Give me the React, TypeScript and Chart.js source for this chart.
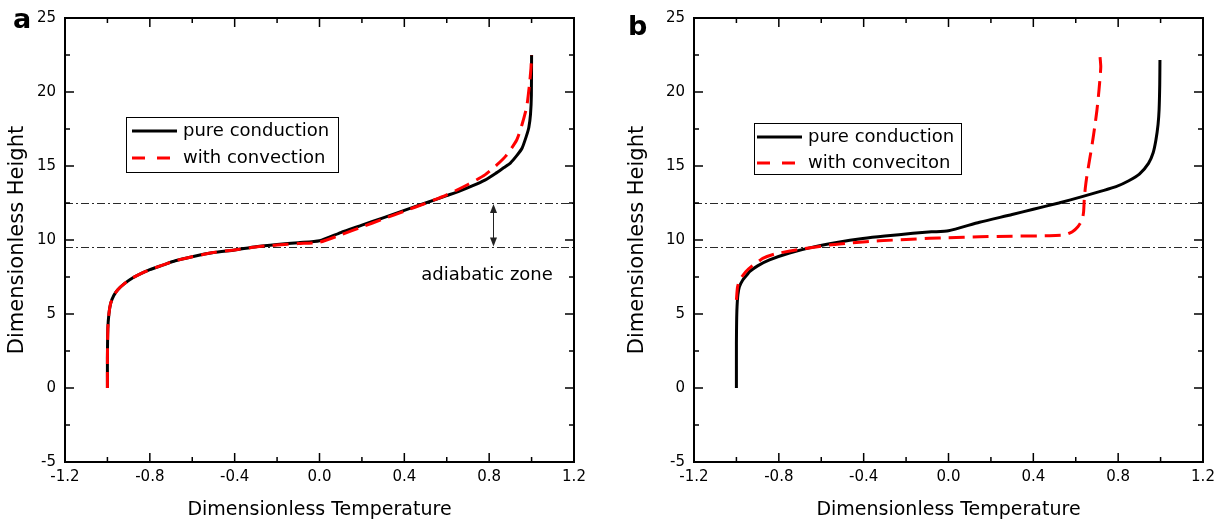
import React, { useEffect, useRef } from "react";
import { Chart, registerables } from "chart.js";

Chart.register(...registerables);

const FONT = "'DejaVu Sans', 'Liberation Sans', sans-serif";

// ---- tick labels / texts ----
const xTickValues = [-1.2, -0.8, -0.4, 0, 0.4, 0.8, 1.2];
const yTickValues = [-5, 0, 5, 10, 15, 20, 25];
const zoneBounds = [9.5, 12.5];
const xTitle = "Dimensionless Temperature";
const yTitle = "Dimensionless Height";
const labelsA = ["pure conduction", "with convection"];
const labelsB = ["pure conduction", "with conveciton"];
const zoneLabel = "adiabatic zone";
const zoneArrowT = 0.82;
const zoneLabelT = 0.79;
const zoneLabelH = 7.6;

// ---- panel a: pure conduction ----
const aCondT = [-1.0, -1.0, -0.998, -0.993, -0.985, -0.97, -0.95, -0.92, -0.88, -0.84, -0.8, -0.74, -0.68, -0.6, -0.5, -0.4, -0.3, -0.2, -0.1, 0.0, 0.1, 0.2, 0.3, 0.4, 0.5, 0.6, 0.66, 0.72, 0.78, 0.83, 0.87, 0.9, 0.93, 0.955, 0.975, 0.987, 0.995, 0.999, 1.0];
const aCondH = [0, 2, 4, 5, 5.7, 6.25, 6.65, 7.05, 7.45, 7.75, 8.0, 8.3, 8.6, 8.87, 9.15, 9.33, 9.55, 9.7, 9.82, 9.95, 10.5, 11.0, 11.5, 12.0, 12.5, 13.0, 13.3, 13.65, 14.05, 14.5, 14.9, 15.2, 15.7, 16.2, 17.0, 17.6, 18.5, 19.8, 22.5];
// ---- panel a: with convection ----
const aConvT = [-1.0, -1.0, -0.998, -0.993, -0.985, -0.97, -0.95, -0.92, -0.88, -0.84, -0.8, -0.74, -0.68, -0.6, -0.5, -0.4, -0.3, -0.2, -0.1, 0.0, 0.1, 0.2, 0.3, 0.4, 0.5, 0.6, 0.7, 0.78, 0.836, 0.88, 0.93, 0.955, 0.977, 0.99, 0.997, 1.0];
const aConvH = [0, 2, 4, 5, 5.7, 6.25, 6.65, 7.05, 7.45, 7.75, 8.0, 8.3, 8.6, 8.87, 9.15, 9.33, 9.53, 9.66, 9.76, 9.85, 10.35, 10.88, 11.42, 11.95, 12.48, 13.05, 13.75, 14.4, 15.07, 15.7, 16.76, 17.8, 19.0, 20.5, 21.6, 22.5];

// ---- panel b: pure conduction ----
const bCondT = [-1.0, -1.0, -0.999, -0.997, -0.993, -0.986, -0.97, -0.95, -0.938, -0.9, -0.844, -0.75, -0.64, -0.52, -0.404, -0.3, -0.168, -0.08, 0.0, 0.146, 0.3, 0.4, 0.52, 0.63, 0.72, 0.79, 0.85, 0.9, 0.943, 0.965, 0.978, 0.988, 0.993, 0.996, 0.997];
const bCondH = [0, 3, 4.5, 5.5, 6.3, 6.84, 7.3, 7.65, 7.86, 8.25, 8.65, 9.12, 9.52, 9.85, 10.1, 10.27, 10.45, 10.55, 10.62, 11.2, 11.72, 12.08, 12.5, 12.93, 13.3, 13.6, 14.0, 14.45, 15.18, 15.9, 16.76, 17.8, 18.8, 20.5, 22.16];
// ---- panel b: with convection ----
const bConvT = [-1.0, -0.995, -0.985, -0.97, -0.956, -0.93, -0.9, -0.876, -0.82, -0.72, -0.563, -0.45, -0.327, -0.2, -0.09, 0.0, 0.146, 0.3, 0.476, 0.55, 0.584, 0.61, 0.63, 0.637, 0.64, 0.645, 0.652, 0.665, 0.678, 0.69, 0.7, 0.71, 0.718, 0.713];
const bConvH = [5.95, 6.8, 7.3, 7.6, 7.86, 8.2, 8.5, 8.76, 9.05, 9.32, 9.66, 9.82, 9.95, 10.03, 10.11, 10.16, 10.22, 10.26, 10.29, 10.35, 10.56, 10.9, 11.35, 11.9, 12.7, 13.5, 14.28, 15.4, 16.53, 17.7, 18.78, 20.2, 21.7, 22.6];

const toPts = (t: number[], h: number[]) => t.map((v, i) => ({ x: v, y: h[i] }));

type Decor = {
  letter: string;
  letterX: number;
  letterY: number;
  legend: { x: number; y: number; w: number; h: number; rows: number[]; l0: number; l1: number; tx: number };
  arrow: boolean;
};

function makeDecor(cfg: Decor) {
  return {
    id: "panelDecor",
    beforeDatasetsDraw(chart: any) {
      const { ctx, chartArea: ca, scales } = chart;
      const y = scales.y;
      ctx.save();
      ctx.strokeStyle = "#2a2a2a";
      ctx.lineWidth = 1;
      ctx.setLineDash([8, 3, 2, 3]);
      for (const v of zoneBounds) {
        const py = Math.round(y.getPixelForValue(v)) + 0.5;
        ctx.beginPath();
        ctx.moveTo(ca.left, py);
        ctx.lineTo(ca.right, py);
        ctx.stroke();
      }
      ctx.restore();
    },
    afterDatasetsDraw(chart: any) {
      const { ctx, chartArea: ca, scales } = chart;
      const x = scales.x;
      const y = scales.y;
      ctx.save();
      ctx.setLineDash([]);
      ctx.strokeStyle = "#000";
      // ticks (inward, all four sides)
      ctx.lineWidth = 1.5;
      const major = 9;
      const minor = 5;
      const xs: [number, number][] = [];
      xTickValues.forEach((v, i) => {
        xs.push([v, major]);
        if (i < xTickValues.length - 1) xs.push([(v + xTickValues[i + 1]) / 2, minor]);
      });
      const ys: [number, number][] = [];
      yTickValues.forEach((v, i) => {
        ys.push([v, major]);
        if (i < yTickValues.length - 1) ys.push([(v + yTickValues[i + 1]) / 2, minor]);
      });
      ctx.beginPath();
      for (const [v, len] of xs) {
        const px = x.getPixelForValue(v);
        ctx.moveTo(px, ca.bottom);
        ctx.lineTo(px, ca.bottom - len);
        ctx.moveTo(px, ca.top);
        ctx.lineTo(px, ca.top + len);
      }
      for (const [v, len] of ys) {
        const py = y.getPixelForValue(v);
        ctx.moveTo(ca.left, py);
        ctx.lineTo(ca.left + len, py);
        ctx.moveTo(ca.right, py);
        ctx.lineTo(ca.right - len, py);
      }
      ctx.stroke();
      // frame
      ctx.lineWidth = 2;
      ctx.strokeRect(ca.left, ca.top, ca.right - ca.left, ca.bottom - ca.top);

      // legend
      const lg = cfg.legend;
      ctx.lineWidth = 1;
      ctx.strokeStyle = "#000";
      ctx.strokeRect(lg.x + 0.5, lg.y + 0.5, lg.w, lg.h);
      ctx.font = `18px ${FONT}`;
      ctx.textBaseline = "middle";
      ctx.textAlign = "left";
      chart.data.datasets.forEach((ds: any, i: number) => {
        const ry = lg.rows[i];
        ctx.strokeStyle = ds.borderColor;
        ctx.lineWidth = 3;
        ctx.setLineDash(ds.borderDash && ds.borderDash.length ? [13, 12] : []);
        ctx.beginPath();
        ctx.moveTo(lg.l0, ry);
        ctx.lineTo(lg.l1, ry);
        ctx.stroke();
        ctx.setLineDash([]);
        ctx.fillStyle = "#000";
        ctx.fillText(ds.label, lg.tx, ry);
      });

      // adiabatic zone arrow + label
      if (cfg.arrow) {
        const ax = Math.round(x.getPixelForValue(zoneArrowT)) + 0.5;
        const yTop = y.getPixelForValue(zoneBounds[1]);
        const yBot = y.getPixelForValue(zoneBounds[0]);
        ctx.strokeStyle = "#222";
        ctx.fillStyle = "#222";
        ctx.lineWidth = 1;
        ctx.beginPath();
        ctx.moveTo(ax, yTop + 4);
        ctx.lineTo(ax, yBot - 4);
        ctx.stroke();
        ctx.beginPath();
        ctx.moveTo(ax, yTop + 1);
        ctx.lineTo(ax - 3.5, yTop + 10);
        ctx.lineTo(ax + 3.5, yTop + 10);
        ctx.closePath();
        ctx.fill();
        ctx.beginPath();
        ctx.moveTo(ax, yBot - 1);
        ctx.lineTo(ax - 3.5, yBot - 10);
        ctx.lineTo(ax + 3.5, yBot - 10);
        ctx.closePath();
        ctx.fill();
        ctx.fillStyle = "#000";
        ctx.font = `18px ${FONT}`;
        ctx.textAlign = "center";
        ctx.textBaseline = "middle";
        ctx.fillText(zoneLabel, x.getPixelForValue(zoneLabelT), y.getPixelForValue(zoneLabelH));
      }

      // panel letter
      ctx.fillStyle = "#000";
      ctx.font = `bold 27px ${FONT}`;
      ctx.textAlign = "left";
      ctx.textBaseline = "alphabetic";
      ctx.fillText(cfg.letter, cfg.letterX, cfg.letterY);
      ctx.restore();
    },
  };
}

function buildConfig(
  cond: { x: number; y: number }[],
  conv: { x: number; y: number }[],
  labels: string[],
  yWidth: number,
  padRight: number,
  yTitlePad: number,
  decor: Decor
): any {
  return {
    type: "line",
    data: {
      datasets: [
        {
          label: labels[0],
          data: cond,
          borderColor: "#000000",
          borderWidth: 3,
          pointRadius: 0,
          tension: 0.2,
          fill: false,
          order: 2,
        },
        {
          label: labels[1],
          data: conv,
          borderColor: "#ff0000",
          borderWidth: 3,
          borderDash: [16, 8],
          pointRadius: 0,
          tension: 0.2,
          fill: false,
          order: 1,
        },
      ],
    },
    options: {
      responsive: false,
      animation: false,
      devicePixelRatio: 1,
      layout: { padding: { left: 0, right: padRight, top: 18, bottom: 0 } },
      plugins: { legend: { display: false }, tooltip: { enabled: false } },
      scales: {
        x: {
          type: "linear",
          min: -1.2,
          max: 1.2,
          afterBuildTicks: (s: any) => {
            s.ticks = xTickValues.map((v) => ({ value: v }));
          },
          afterFit: (s: any) => {
            s.height = 60;
          },
          grid: { display: false, drawTicks: false },
          border: { display: false },
          ticks: {
            color: "#000",
            font: { family: FONT, size: 15 },
            padding: 6,
            maxRotation: 0,
            autoSkip: false,
            callback: (v: any) => Number(v).toFixed(1),
          },
          title: {
            display: true,
            text: xTitle,
            color: "#000",
            font: { family: FONT, size: 19 },
            padding: { top: 0, bottom: 1 },
          },
        },
        y: {
          type: "linear",
          min: -5,
          max: 25,
          afterBuildTicks: (s: any) => {
            s.ticks = yTickValues.map((v) => ({ value: v }));
          },
          afterFit: (s: any) => {
            s.width = yWidth;
          },
          grid: { display: false, drawTicks: false },
          border: { display: false },
          ticks: {
            color: "#000",
            font: { family: FONT, size: 15 },
            padding: 9,
            autoSkip: false,
            callback: (v: any) => String(v),
          },
          title: {
            display: true,
            text: yTitle,
            color: "#000",
            font: { family: FONT, size: 21 },
            padding: { top: yTitlePad, bottom: 0 },
          },
        },
      },
    },
    plugins: [makeDecor(decor)],
  };
}

function Panel({ left, width, make }: { left: number; width: number; make: () => any }) {
  const ref = useRef<HTMLCanvasElement>(null);
  useEffect(() => {
    const chart = new Chart(ref.current as HTMLCanvasElement, make());
    return () => chart.destroy();
  }, []);
  return (
    <canvas
      ref={ref}
      width={width}
      height={522}
      style={{ position: "absolute", left, top: 0, width, height: 522 }}
    />
  );
}

export default function App() {
  return (
    <div style={{ position: "absolute", left: 0, top: 0, width: 1221, height: 522, background: "#fff" }}>
      <Panel
        left={0}
        width={610}
        make={() =>
          buildConfig(toPts(aCondT, aCondH), toPts(aConvT, aConvH), labelsA, 65, 36, 5.4, {
            letter: "a",
            letterX: 13,
            letterY: 28,
            legend: { x: 126, y: 117, w: 212, h: 55, rows: [131, 158], l0: 132, l1: 177, tx: 183 },
            arrow: true,
          })
        }
      />
      <Panel
        left={610}
        width={611}
        make={() =>
          buildConfig(toPts(bCondT, bCondH), toPts(bConvT, bConvH), labelsB, 84, 18, 15.4, {
            letter: "b",
            letterX: 18,
            letterY: 35,
            legend: { x: 144, y: 123, w: 207, h: 51, rows: [137, 163], l0: 147, l1: 192, tx: 198 },
            arrow: false,
          })
        }
      />
    </div>
  );
}
